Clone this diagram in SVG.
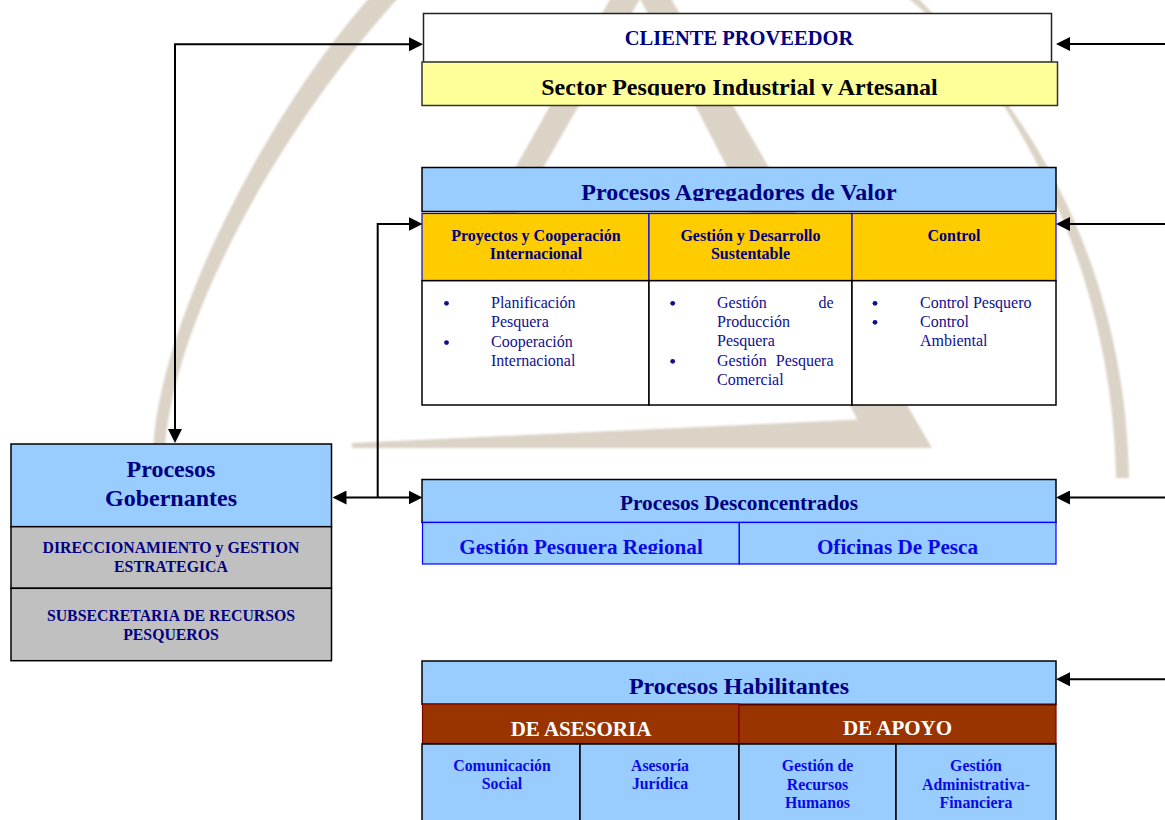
<svg xmlns="http://www.w3.org/2000/svg" width="1165" height="820" viewBox="0 0 1165 820">
<defs>
<style>
text{font-family:"Liberation Serif","Times New Roman",serif;text-anchor:middle}
.b{font-weight:bold}
.navy{fill:#000080}
.blue{fill:#0A0AE6}
.bul{fill:#10108F;font-size:16px;text-anchor:start}
.hd{font-size:16px}
.sm{font-size:15.8px}
.t24{font-size:24px}
.lb{fill:#99CCFF;stroke:#000;stroke-width:1.5}
.gold{fill:#FFCC00;stroke:#0000FF;stroke-width:1.2}
.wh{fill:#fff;stroke:#000;stroke-width:1.5}
.gr{fill:#C0C0C0;stroke:#000;stroke-width:1.5}
.br{fill:#993300;stroke:#800000;stroke-width:1.2}
.bb{fill:#99CCFF;stroke:#0000FF;stroke-width:1.2}
.con{fill:none;stroke:#000;stroke-width:2}
.wm{fill:#dbd3c6}
</style>
<filter id="soft" x="-5%" y="-5%" width="110%" height="110%"><feGaussianBlur stdDeviation="1.2"/></filter>
<marker id="arr" viewBox="0 0 14 14" markerUnits="userSpaceOnUse" markerWidth="14" markerHeight="14" refX="8" refY="7" orient="auto-start-reverse">
<path d="M0,0 L14,7 L0,14 Z" fill="#000"/>
</marker>
<clipPath id="cSector"><rect x="420" y="60" width="640" height="35.6"/></clipPath>
<clipPath id="cAgreg"><rect x="420" y="165" width="640" height="36"/></clipPath>
<clipPath id="cDesc"><rect x="420" y="522" width="640" height="32"/></clipPath>
</defs>

<g id="watermark" filter="url(#soft)">
<path class="wm" d="M153,452 C157,330 265,110 380,-14 L402,-6 C275,132 170,330 165,452 Z"/>
<path class="wm" d="M893,-14 C1035,95 1126,275 1129,478 L1116,478 C1113,285 1030,110 916,-4 Z"/>
<path class="wm" d="M618,-15 L648,-15 L450,330 L424,330 Z"/>
<path class="wm" d="M633,-15 L663,-15 L932,448 L872,448 Z"/>
<path class="wm" d="M352,443 L890,418 L925,448 L352,448 Z"/>
</g>

<g id="cliente">
<rect x="423.5" y="13.5" width="628" height="49" fill="#fff" stroke="#222" stroke-width="1.5"/>
<text x="739" y="44.5" class="b navy" font-size="20.5">CLIENTE PROVEEDOR</text>
</g>

<g id="sector">
<rect x="422" y="62" width="635.5" height="43.5" fill="#FFFF99" stroke="#333" stroke-width="1.5"/>
<text x="739.5" y="95" class="b t24" fill="#000" clip-path="url(#cSector)">Sector Pesquero Industrial y Artesanal</text>
</g>

<g id="agregadores">
<rect x="422" y="167.5" width="634" height="44" class="lb"/>
<text x="739" y="200" class="b navy t24" clip-path="url(#cAgreg)">Procesos Agregadores de Valor</text>
<rect x="422" y="213.5" width="227" height="67" class="gold"/>
<rect x="649" y="213.5" width="203" height="67" class="gold"/>
<rect x="852" y="213.5" width="204" height="67" class="gold"/>
<text x="536" y="240.7" class="b navy hd">Proyectos y Cooperación</text>
<text x="536" y="259.3" class="b navy hd">Internacional</text>
<text x="750.5" y="240.7" class="b navy hd">Gestión y Desarrollo</text>
<text x="750.5" y="259.3" class="b navy hd">Sustentable</text>
<text x="954" y="240.7" class="b navy hd">Control</text>
<rect x="422" y="280.7" width="227" height="124.3" class="wh"/>
<rect x="649" y="280.7" width="203" height="124.3" class="wh"/>
<rect x="852" y="280.7" width="204" height="124.3" class="wh"/>
<g fill="#10108F">
<circle cx="446.5" cy="303.3" r="2.4"/>
<circle cx="446.5" cy="342.6" r="2.4"/>
<circle cx="672.7" cy="303.3" r="2.4"/>
<circle cx="672.7" cy="361.3" r="2.4"/>
<circle cx="875" cy="303.3" r="2.4"/>
<circle cx="875" cy="322.3" r="2.4"/>
</g>
<text x="491" y="307.7" class="bul">Planificación</text>
<text x="491" y="326.7" class="bul">Pesquera</text>
<text x="491" y="347" class="bul">Cooperación</text>
<text x="491" y="365.7" class="bul">Internacional</text>
<text x="717" y="307.7" class="bul">Gestión</text>
<text x="833.5" y="307.7" class="bul" style="text-anchor:end">de</text>
<text x="717" y="326.7" class="bul">Producción</text>
<text x="717" y="345.7" class="bul">Pesquera</text>
<text x="717" y="365.7" class="bul">Gestión</text>
<text x="833.5" y="365.7" class="bul" style="text-anchor:end">Pesquera</text>
<text x="717" y="384.7" class="bul">Comercial</text>
<text x="920" y="307.7" class="bul">Control Pesquero</text>
<text x="920" y="326.7" class="bul">Control</text>
<text x="920" y="345.7" class="bul">Ambiental</text>
</g>

<g id="gobernantes">
<rect x="11" y="444" width="320.5" height="82.7" class="lb"/>
<text x="171" y="476.7" class="b navy t24">Procesos</text>
<text x="171" y="506" class="b navy t24">Gobernantes</text>
<rect x="11" y="526.7" width="320.5" height="61.6" class="gr"/>
<text x="171" y="552.7" class="b navy sm">DIRECCIONAMIENTO y GESTION</text>
<text x="171" y="571.7" class="b navy sm">ESTRATEGICA</text>
<rect x="11" y="588.3" width="320.5" height="72.4" class="gr"/>
<text x="171" y="620.7" class="b navy sm">SUBSECRETARIA DE RECURSOS</text>
<text x="171" y="640" class="b navy sm">PESQUEROS</text>
</g>

<g id="desconcentrados">
<rect x="422" y="479.5" width="634" height="43" class="lb"/>
<text x="739" y="510" class="b navy" font-size="21.3">Procesos Desconcentrados</text>
<rect x="422.5" y="522.5" width="316.8" height="41.5" class="bb"/>
<rect x="739.3" y="522.5" width="316.7" height="41.5" class="bb"/>
<g clip-path="url(#cDesc)">
<text x="581" y="553.5" class="b blue" font-size="21.2">Gestión Pesquera Regional</text>
<text x="897.5" y="553.5" class="b blue" font-size="21.2">Oficinas De Pesca</text>
</g>
</g>

<g id="habilitantes">
<rect x="422" y="661" width="634" height="43.3" class="lb"/>
<text x="739" y="694.3" class="b navy t24">Procesos Habilitantes</text>
<rect x="422.5" y="704" width="316.5" height="39.5" class="br"/>
<rect x="739" y="705" width="317" height="38.5" class="br"/>
<text x="581" y="735.7" class="b" font-size="21" fill="#fff">DE ASESORIA</text>
<text x="897.5" y="735" class="b" font-size="21" fill="#fff">DE APOYO</text>
<rect x="422" y="744" width="158" height="90" class="lb"/>
<rect x="580" y="744" width="159" height="90" class="lb"/>
<rect x="739" y="744" width="157" height="90" class="lb"/>
<rect x="896" y="744" width="160" height="90" class="lb"/>
<text x="502" y="771" class="b blue sm">Comunicación</text>
<text x="502" y="789" class="b blue sm">Social</text>
<text x="660" y="771" class="b blue sm">Asesoría</text>
<text x="660" y="789" class="b blue sm">Jurídica</text>
<text x="817.5" y="771" class="b blue sm">Gestión de</text>
<text x="817.5" y="789.5" class="b blue sm">Recursos</text>
<text x="817.5" y="808" class="b blue sm">Humanos</text>
<text x="976" y="771" class="b blue sm">Gestión</text>
<text x="976" y="789.5" class="b blue sm">Administrativa-</text>
<text x="976" y="808" class="b blue sm">Financiera</text>
</g>

<g id="connectors">
<path class="con" d="M175,437 V44.3 H417" marker-start="url(#arr)" marker-end="url(#arr)"/>
<path class="con" d="M338.5,497.5 H416.5" marker-start="url(#arr)" marker-end="url(#arr)"/>
<path class="con" d="M377.7,497.5 V224 H416.5" marker-end="url(#arr)"/>
<path class="con" d="M1165,44 H1062" marker-end="url(#arr)"/>
<path class="con" d="M1165,224 H1062" marker-end="url(#arr)"/>
<path class="con" d="M1165,497.5 H1062" marker-end="url(#arr)"/>
<path class="con" d="M1165,679.3 H1062" marker-end="url(#arr)"/>
</g>
</svg>
